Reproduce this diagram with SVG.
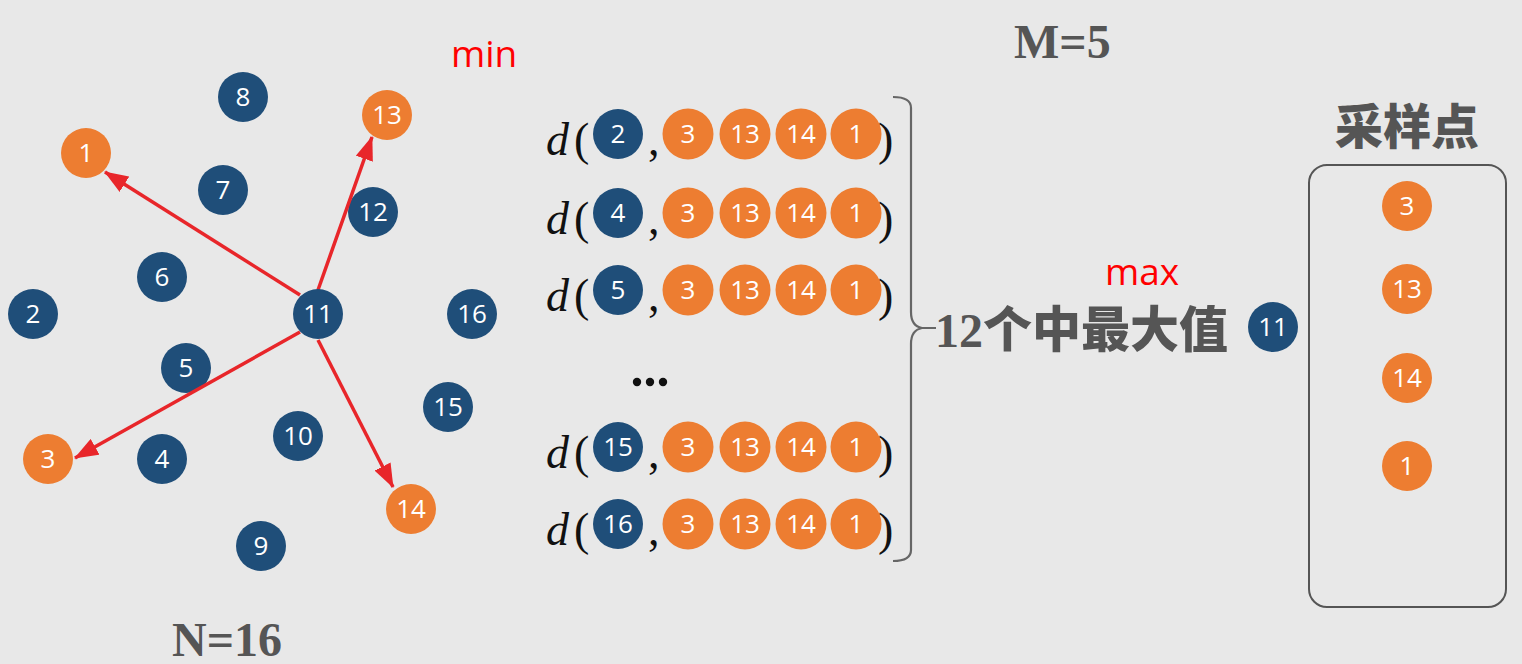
<svg xmlns="http://www.w3.org/2000/svg" width="1522" height="664" viewBox="0 0 1522 664">
<defs>
<style>
.bg{fill:#E8E8E8}
.b{fill:#1F4E79}
.o{fill:#ED7D31}
.lbl{fill:#FFFFFF;font-family:"Open Sans","Noto Sans",sans-serif;font-size:26px;text-anchor:middle}
.arrow{stroke:#E8262A;stroke-width:3.5;fill:none;marker-end:url(#ah)}
.title{fill:#555555;font-family:"Liberation Serif",serif;font-weight:bold;font-size:48px}
.cjk{fill:#555555;font-family:"Noto Sans CJK SC",sans-serif;font-weight:900}
.red{fill:#FF0000;font-family:"Open Sans","Noto Sans",sans-serif;font-size:37px}
.math{fill:#111111;font-family:"Liberation Serif",serif;font-size:46px}
.brace{stroke:#666666;stroke-width:2.2;fill:none}
</style>
<marker id="ah" markerUnits="userSpaceOnUse" markerWidth="24" markerHeight="18" refX="23" refY="9" orient="auto">
<path d="M0,0 L24,9 L0,18 z" fill="#E8262A"/>
</marker>
</defs>
<rect class="bg" x="0" y="0" width="1522" height="664"/>

<g id="points">
<g id="n8"><circle class="b" cx="243" cy="97" r="25"/><text class="lbl" x="243" y="106">8</text></g>
<g id="n13"><circle class="o" cx="387" cy="115" r="25"/><text class="lbl" x="387" y="124">13</text></g>
<g id="n1"><circle class="o" cx="86" cy="153" r="25"/><text class="lbl" x="86" y="162">1</text></g>
<g id="n7"><circle class="b" cx="223" cy="190" r="25"/><text class="lbl" x="223" y="199">7</text></g>
<g id="n12"><circle class="b" cx="373" cy="212" r="25"/><text class="lbl" x="373" y="221">12</text></g>
<g id="n6"><circle class="b" cx="162" cy="277" r="25"/><text class="lbl" x="162" y="286">6</text></g>
<g id="n2"><circle class="b" cx="33" cy="314" r="25"/><text class="lbl" x="33" y="323">2</text></g>
<g id="n16"><circle class="b" cx="472" cy="314" r="25"/><text class="lbl" x="472" y="323">16</text></g>
<g id="n5"><circle class="b" cx="186" cy="368" r="25"/><text class="lbl" x="186" y="377">5</text></g>
<g id="n15"><circle class="b" cx="448" cy="407" r="25"/><text class="lbl" x="448" y="416">15</text></g>
<g id="n10"><circle class="b" cx="298" cy="436" r="25"/><text class="lbl" x="298" y="445">10</text></g>
<g id="n3"><circle class="o" cx="48" cy="459" r="25"/><text class="lbl" x="48" y="468">3</text></g>
<g id="n4"><circle class="b" cx="162" cy="459" r="25"/><text class="lbl" x="162" y="468">4</text></g>
<g id="n14"><circle class="o" cx="411" cy="509" r="25"/><text class="lbl" x="411" y="518">14</text></g>
<g id="n9"><circle class="b" cx="261" cy="546" r="25"/><text class="lbl" x="261" y="555">9</text></g>
</g>

<g id="connectors">
<line class="arrow" x1="300" y1="295" x2="105" y2="172"/>
<line class="arrow" x1="318" y1="290" x2="372" y2="137"/>
<line class="arrow" x1="300" y1="332" x2="75" y2="458"/>
<line class="arrow" x1="318" y1="340" x2="393" y2="487"/>
</g>

<g id="n11"><circle class="b" cx="318" cy="314" r="25"/><text class="lbl" x="318" y="323">11</text></g>

<text class="red" x="451" y="67">min</text>
<text class="title" x="1014" y="58">M=5</text>
<text class="title" x="172" y="656">N=16</text>

<g id="row2" transform="translate(0,134)">
<text class="math" x="546" y="21" font-style="italic">d</text><text class="math" x="574" y="21">(</text>
<circle class="b" cx="618" cy="0" r="25"/><text class="lbl" x="618" y="9">2</text>
<text class="math" x="648" y="21">,</text>
<circle class="o" cx="688" cy="0" r="25.5"/><text class="lbl" x="688" y="9">3</text>
<circle class="o" cx="745" cy="0" r="25.5"/><text class="lbl" x="745" y="9">13</text>
<circle class="o" cx="801" cy="0" r="25.5"/><text class="lbl" x="801" y="9">14</text>
<circle class="o" cx="856" cy="0" r="25.5"/><text class="lbl" x="856" y="9">1</text>
<text class="math" x="878" y="21">)</text>
</g>
<g id="row4" transform="translate(0,213)">
<text class="math" x="546" y="21" font-style="italic">d</text><text class="math" x="574" y="21">(</text>
<circle class="b" cx="618" cy="0" r="25"/><text class="lbl" x="618" y="9">4</text>
<text class="math" x="648" y="21">,</text>
<circle class="o" cx="688" cy="0" r="25.5"/><text class="lbl" x="688" y="9">3</text>
<circle class="o" cx="745" cy="0" r="25.5"/><text class="lbl" x="745" y="9">13</text>
<circle class="o" cx="801" cy="0" r="25.5"/><text class="lbl" x="801" y="9">14</text>
<circle class="o" cx="856" cy="0" r="25.5"/><text class="lbl" x="856" y="9">1</text>
<text class="math" x="878" y="21">)</text>
</g>
<g id="row5" transform="translate(0,290)">
<text class="math" x="546" y="21" font-style="italic">d</text><text class="math" x="574" y="21">(</text>
<circle class="b" cx="618" cy="0" r="25"/><text class="lbl" x="618" y="9">5</text>
<text class="math" x="648" y="21">,</text>
<circle class="o" cx="688" cy="0" r="25.5"/><text class="lbl" x="688" y="9">3</text>
<circle class="o" cx="745" cy="0" r="25.5"/><text class="lbl" x="745" y="9">13</text>
<circle class="o" cx="801" cy="0" r="25.5"/><text class="lbl" x="801" y="9">14</text>
<circle class="o" cx="856" cy="0" r="25.5"/><text class="lbl" x="856" y="9">1</text>
<text class="math" x="878" y="21">)</text>
</g>
<g id="ellipsis">
<circle cx="637" cy="382" r="4.2" fill="#111"/>
<circle cx="650" cy="382" r="4.2" fill="#111"/>
<circle cx="663" cy="382" r="4.2" fill="#111"/>
</g>
<g id="row15" transform="translate(0,447)">
<text class="math" x="546" y="21" font-style="italic">d</text><text class="math" x="574" y="21">(</text>
<circle class="b" cx="618" cy="0" r="25"/><text class="lbl" x="618" y="9">15</text>
<text class="math" x="648" y="21">,</text>
<circle class="o" cx="688" cy="0" r="25.5"/><text class="lbl" x="688" y="9">3</text>
<circle class="o" cx="745" cy="0" r="25.5"/><text class="lbl" x="745" y="9">13</text>
<circle class="o" cx="801" cy="0" r="25.5"/><text class="lbl" x="801" y="9">14</text>
<circle class="o" cx="856" cy="0" r="25.5"/><text class="lbl" x="856" y="9">1</text>
<text class="math" x="878" y="21">)</text>
</g>
<g id="row16" transform="translate(0,524)">
<text class="math" x="546" y="21" font-style="italic">d</text><text class="math" x="574" y="21">(</text>
<circle class="b" cx="618" cy="0" r="25"/><text class="lbl" x="618" y="9">16</text>
<text class="math" x="648" y="21">,</text>
<circle class="o" cx="688" cy="0" r="25.5"/><text class="lbl" x="688" y="9">3</text>
<circle class="o" cx="745" cy="0" r="25.5"/><text class="lbl" x="745" y="9">13</text>
<circle class="o" cx="801" cy="0" r="25.5"/><text class="lbl" x="801" y="9">14</text>
<circle class="o" cx="856" cy="0" r="25.5"/><text class="lbl" x="856" y="9">1</text>
<text class="math" x="878" y="21">)</text>
</g>

<g id="brace">
<path class="brace" d="M893,97 Q911,97 911,108 L911,312 Q911,326 922,328 L936,328 M922,328 Q911,330 911,344 L911,550 Q911,561 893,561"/>
</g>

<g id="result">
<text x="935" y="347" font-size="50"><tspan class="title" font-size="50">12</tspan><tspan class="cjk" font-size="49">个中最大值</tspan></text>
<text class="red" x="1105" y="285">max</text>
<g id="r11"><circle class="b" cx="1273" cy="327" r="25"/><text class="lbl" x="1273" y="336">11</text></g>
</g>

<g id="samples">
<text class="cjk" x="1407" y="144" font-size="48" text-anchor="middle">采样点</text>
<rect x="1309" y="165" width="197" height="442" rx="18" fill="none" stroke="#555555" stroke-width="2"/>
<g id="s3"><circle class="o" cx="1407" cy="206" r="25"/><text class="lbl" x="1407" y="215">3</text></g>
<g id="s13"><circle class="o" cx="1407" cy="289" r="25"/><text class="lbl" x="1407" y="298">13</text></g>
<g id="s14"><circle class="o" cx="1407" cy="378" r="25"/><text class="lbl" x="1407" y="387">14</text></g>
<g id="s1"><circle class="o" cx="1407" cy="466" r="25"/><text class="lbl" x="1407" y="475">1</text></g>
</g>
</svg>
